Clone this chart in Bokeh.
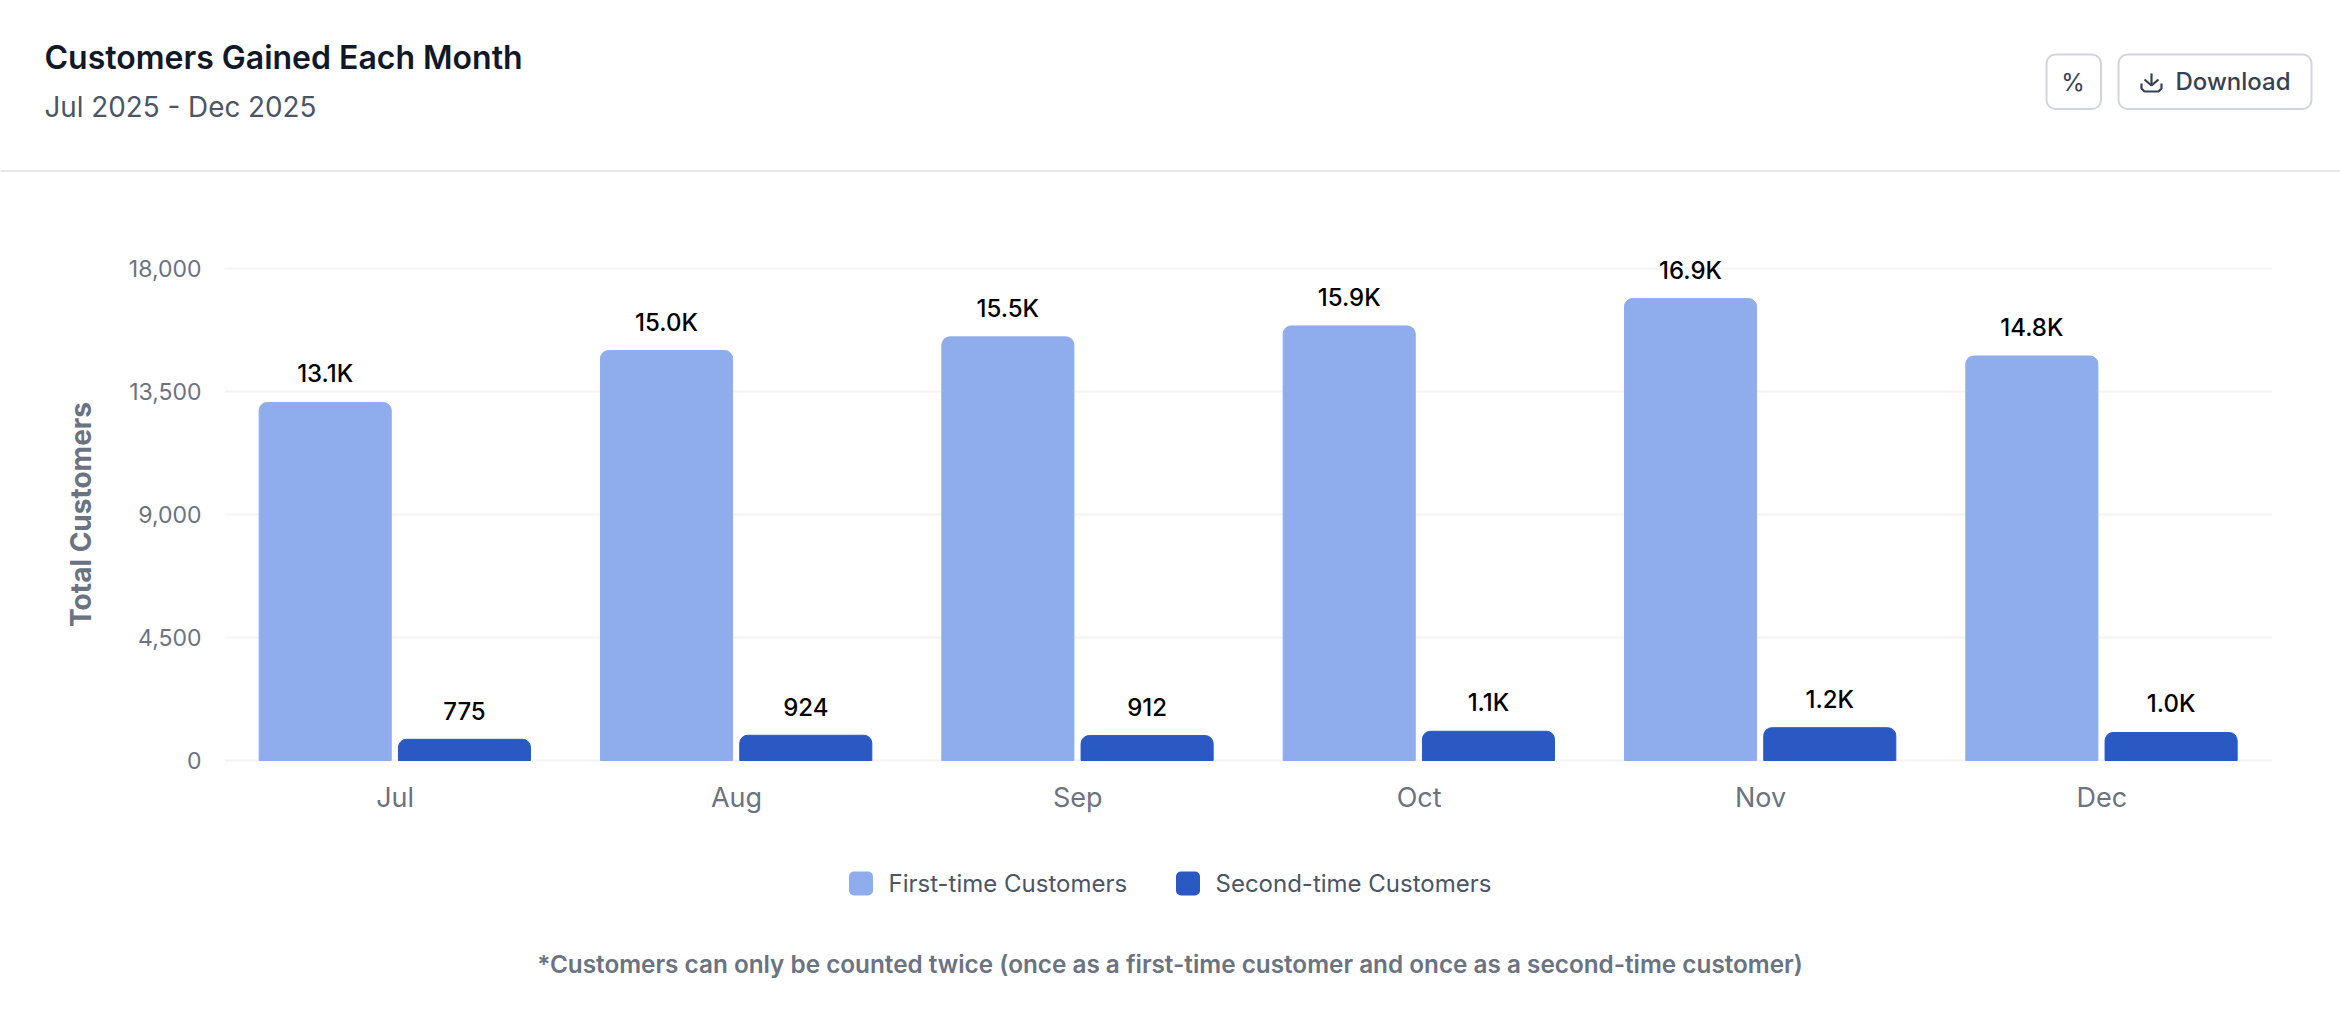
from bokeh.plotting import figure
from bokeh.layouts import column, row
from bokeh.embed import file_html
from bokeh.resources import INLINE
from bokeh.models import Range1d, FactorRange, FixedTicker, NumeralTickFormatter, ColumnDataSource
from bokeh.core.properties import value
from bokeh.transform import dodge

months = ["Jul", "Aug", "Sep", "Oct", "Nov", "Dec"]
first_time = [13100, 15000, 15500, 15900, 16900, 14800]
second_time = [775, 924, 912, 1070, 1200, 1025]
first_labels = ["13.1K", "15.0K", "15.5K", "15.9K", "16.9K", "14.8K"]
second_labels = ["775", "924", "912", "1.1K", "1.2K", "1.0K"]
y_ticks = [0, 4500, 9000, 13500, 18000]

TITLE = "Customers Gained Each Month"
SUBTITLE = "Jul 2025 - Dec 2025"
NOTE = "*Customers can only be counted twice (once as a first-time customer and once as a second-time customer)"
LIGHT = "#8FADEC"
DARK = "#2B59C3"
FONT = "Inter"
W = 2340
DODGE_FIRST, DODGE_SECOND = -0.205, 0.203


def chrome(top, bottom):
    # a strip whose data coordinates are page pixels
    f = figure(width=W, height=bottom - top, x_range=Range1d(0, W), y_range=Range1d(bottom, top),
               output_backend="svg", toolbar_location=None, min_border=0, outline_line_color=None)
    f.xaxis.visible = False
    f.yaxis.visible = False
    f.grid.visible = False
    return f


def txt(f, x, y, s, size, color, style="normal", align="left", font=FONT):
    f.text(x=[x], y=[y], text=[s], text_font=value(font), text_font_size=size, text_color=color,
           text_font_style=style, text_align=align, text_baseline="middle")


# header
head = chrome(0, 173)
txt(head, 44, 56.5, TITLE, "32px", "#111827", font="Inter SemiBold")
txt(head, 44, 106, SUBTITLE, "27.8px", "#4B5563")
head.quad(left=[2046, 2118], right=[2100.5, 2311], top=[54, 54], bottom=[108.5, 108.5], fill_color="white",
          line_color="#D1D5DB", line_width=2, border_radius=9)
txt(head, 2072.5, 81.5, "%", "24px", "#374151", align="center")
txt(head, 2175, 81, "Download", "24px", "#374151", font="Inter Medium")
head.multi_line(xs=[[2151, 2151], [2144, 2151, 2158], [2141, 2141, 2144, 2158, 2161, 2161]],
                ys=[[73, 85], [79, 85, 79], [83, 88, 91, 91, 88, 83]], line_color="#374151", line_width=2.2)
head.line(x=[0, W], y=[170.5, 170.5], line_color="#E5E7EB", line_width=2)

# chart: the value range runs past 0 and 18,000 so that the value labels and month labels are
# not clipped and the axis title is centred on the 0-18,000 span; the month axis stays at 0
src = ColumnDataSource(dict(month=months, first=first_time, second=second_time,
                            first_label=first_labels, second_label=second_labels))
p = figure(width=W, height=677, x_range=FactorRange(factors=months, range_padding=0, factor_padding=0),
           y_range=Range1d(-2195, 20197), output_backend="svg", toolbar_location=None,
           min_border_left=224, min_border_right=68, min_border_top=35, min_border_bottom=30,
           outline_line_color=None)
p.vbar(x=dodge("month", DODGE_FIRST, range=p.x_range), top="first", width=0.387, source=src, color=LIGHT,
       border_radius=(8, 8, 0, 0))
p.vbar(x=dodge("month", DODGE_SECOND, range=p.x_range), top="second", width=0.387, source=src, color=DARK,
       border_radius=(8, 8, 0, 0))
for col, lab, off in (("first", "first_label", DODGE_FIRST), ("second", "second_label", DODGE_SECOND)):
    p.text(x=dodge("month", off, range=p.x_range), y=col, text=lab, source=src, text_align="center",
           text_baseline="middle", y_offset=-28.5, text_font=value("Inter Medium"), text_font_size="24px",
           text_color="#000000")
p.xgrid.visible = False
p.ygrid.grid_line_color = "#F3F4F6"
p.ygrid.grid_line_width = 2
p.ygrid.ticker = FixedTicker(ticks=y_ticks)
p.yaxis.ticker = FixedTicker(ticks=y_ticks)
p.yaxis.formatter = NumeralTickFormatter(format="0,0")
p.yaxis.axis_label = "Total Customers"
p.yaxis.axis_label_text_font = "Inter"
p.yaxis.axis_label_text_font_style = "bold"
p.yaxis.axis_label_text_font_size = "28px"
p.yaxis.axis_label_text_color = "#6B7280"
p.yaxis.axis_label_standoff = 28
p.xaxis.fixed_location = 0
for ax in (p.xaxis[0], p.yaxis[0]):
    ax.axis_line_color = None
    ax.major_tick_line_color = None
    ax.minor_tick_line_color = None
    ax.major_label_text_font = FONT
    ax.major_label_text_color = "#6B7280"
p.yaxis.major_label_text_font_size = "23px"
p.xaxis.major_label_text_font_size = "27px"
p.yaxis.major_label_standoff = 17
p.xaxis.major_label_standoff = 14

# legend and note
foot = chrome(850, 1024)
foot.quad(left=[848.5, 1175.5], right=[872.5, 1199.5], top=[871, 871], bottom=[895, 895], fill_color=[LIGHT, DARK],
          line_color=None, border_radius=5)
txt(foot, 888, 883, "First-time Customers", "24px", "#4B5563")
txt(foot, 1215, 883, "Second-time Customers", "24px", "#4B5563")
txt(foot, 1169.5, 963, NOTE, "24.3px", "#6B7280", align="center", font="Inter SemiBold")

page = column(row(head), row(p), row(foot), spacing=0)
open("out.html", "w").write(file_html(page, INLINE))
